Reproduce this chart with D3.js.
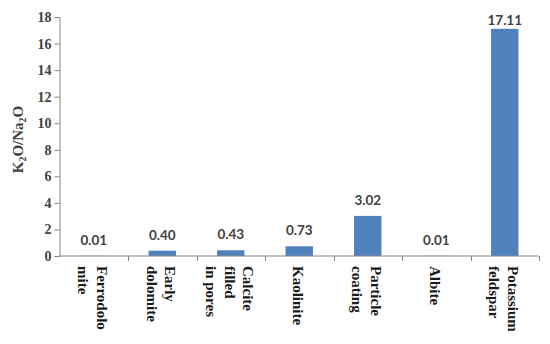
<!DOCTYPE html>
<html>
<head>
<meta charset="utf-8">
<script src="https://cdn.jsdelivr.net/npm/d3@7"></script>
<style>
  html, body { margin: 0; padding: 0; background: #fff; }
  svg { display: block; }
</style>
</head>
<body>
<svg id="chart" width="550" height="344"></svg>
<script>
const categories = ["Ferrodolomite", "Early dolomite", "Calcite filled in pores", "Kaolinite", "Particle coating", "Albite", "Potassium feldspar"];
const categoryLines = [["Ferrodolo", "mite"], ["Early", "dolomite"], ["Calcite", "filled", "in pores"], ["Kaolinite"], ["Particle", "coating"], ["Albite"], ["Potassium", "feldspar"]];
const values = [0.01, 0.40, 0.43, 0.73, 3.02, 0.01, 17.11];
const valueLabels = ["0.01", "0.40", "0.43", "0.73", "3.02", "0.01", "17.11"];
const yTicks = [0, 2, 4, 6, 8, 10, 12, 14, 16, 18];

const svg = d3.select("#chart");
const mLeft = 59.5, mRight = 539, mTop = 17, mBottom = 256;

const x = d3.scaleBand().domain(categories).range([mLeft, mRight]).paddingInner(0.6).paddingOuter(0.3);
const xb = d3.scaleBand().domain(categories).range([mLeft, mRight]).padding(0);
const y = d3.scaleLinear().domain([0, 18]).range([mBottom, mTop]);

const axisColor = "#868686";

// bars
svg.append("g").selectAll("rect").data(values).join("rect")
  .attr("x", (d, i) => x(categories[i]))
  .attr("width", x.bandwidth())
  .attr("y", d => y(d))
  .attr("height", d => y(0) - y(d))
  .attr("fill", "#4f81bd");

// y axis
const yAxis = svg.append("g")
  .attr("transform", `translate(${mLeft},0)`)
  .call(d3.axisLeft(y).tickValues(yTicks).tickSize(5).tickPadding(3).tickFormat(d3.format("d")));
yAxis.select(".domain").attr("stroke", axisColor);
yAxis.selectAll(".tick line").attr("stroke", axisColor);
yAxis.selectAll(".tick text")
  .attr("font-family", "Liberation Serif, serif")
  .attr("font-weight", "bold")
  .attr("font-size", 14)
  .attr("fill", "#404040");

// x axis line + boundary ticks
svg.append("line")
  .attr("x1", mLeft).attr("x2", mRight)
  .attr("y1", y(0)).attr("y2", y(0))
  .attr("stroke", axisColor);
const bounds = categories.map(c => xb(c)).concat([xb(categories[categories.length - 1]) + xb.bandwidth()]);
svg.append("g").selectAll("line").data(bounds.slice(1)).join("line")
  .attr("x1", d => Math.round(d) + 0.5).attr("x2", d => Math.round(d) + 0.5)
  .attr("y1", y(0)).attr("y2", y(0) + 5)
  .attr("stroke", axisColor);

// x category labels (rotated)
const lh = 18.5;
const xl = svg.append("g").selectAll("g").data(categoryLines).join("g")
  .attr("transform", (d, i) => `translate(${xb(categories[i]) + xb.bandwidth() / 2 - 1},266) rotate(90)`);
xl.each(function(lines) {
  const t = d3.select(this).append("text")
    .attr("font-family", "Liberation Serif, serif")
    .attr("font-weight", "bold")
    .attr("font-size", 15)
    .attr("fill", "#1a1a1a")
    .attr("text-anchor", "start");
  lines.forEach((ln, j) => {
    t.append("tspan")
      .attr("x", 0)
      .attr("y", (j - (lines.length - 1) / 2) * lh)
      .attr("dy", "0.35em")
      .text(ln);
  });
});

// value labels
svg.append("g").selectAll("text").data(values).join("text")
  .attr("x", (d, i) => x(categories[i]) + x.bandwidth() / 2)
  .attr("y", d => Math.max(y(d) - 11, y(18) + 8))
  .attr("text-anchor", "middle")
  .attr("font-family", "Lato, 'Open Sans', sans-serif")
  .attr("font-weight", "bold")
  .attr("font-size", 13.5)
  .attr("fill", "#404040")
  .text((d, i) => valueLabels[i]);

// y axis title
const title = svg.append("text")
  .attr("transform", `translate(23,${(mTop + mBottom) / 2 + 3}) rotate(-90)`)
  .attr("text-anchor", "middle")
  .attr("font-family", "Liberation Serif, serif")
  .attr("font-weight", "bold")
  .attr("font-size", 15)
  .attr("fill", "#404040");
title.append("tspan").text("K");
title.append("tspan").attr("font-size", 10).attr("dy", 3).text("2");
title.append("tspan").attr("dy", -3).text("O/Na");
title.append("tspan").attr("font-size", 10).attr("dy", 3).text("2");
title.append("tspan").attr("dy", -3).text("O");
</script>
</body>
</html>
